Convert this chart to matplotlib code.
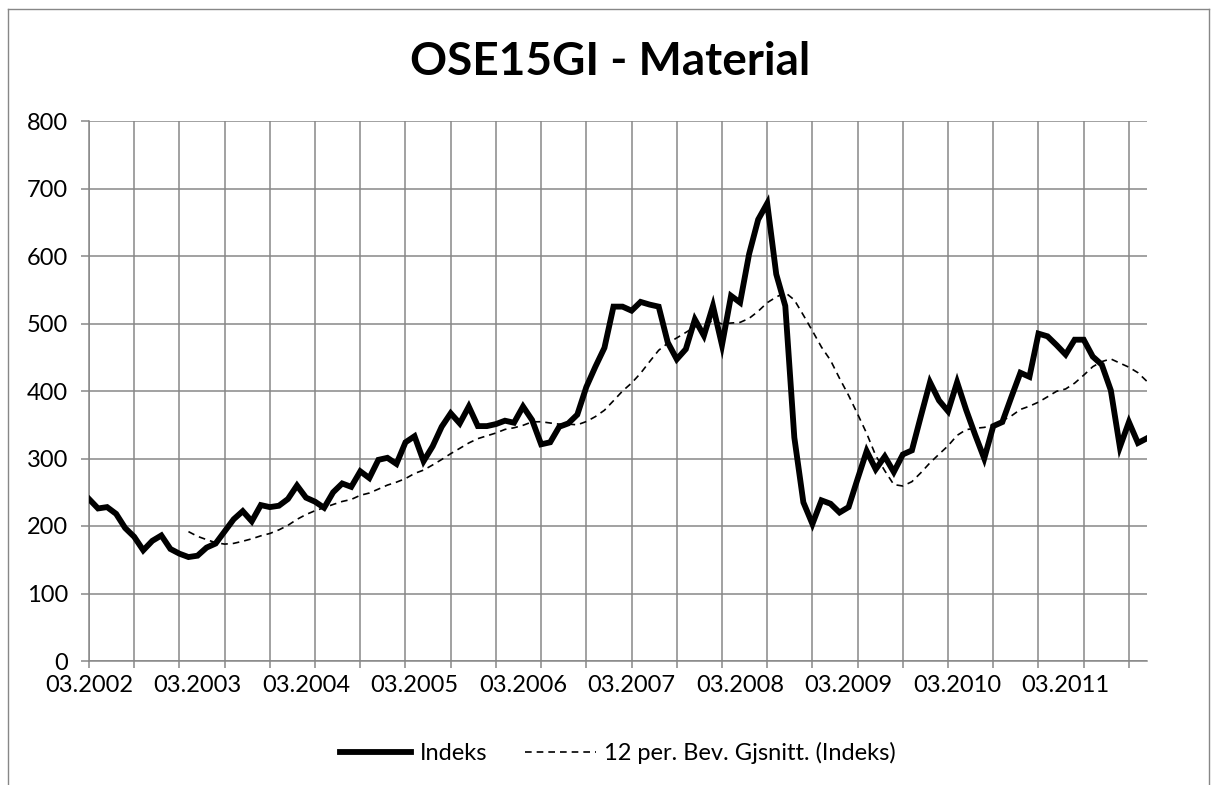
import numpy as np
import pandas as pd
import matplotlib
matplotlib.use("Agg")
import matplotlib.pyplot as plt
from matplotlib.lines import Line2D

# Monthly index values, 03.2002 .. 12.2011
indeks = [
    240, 226, 228, 218, 197, 184, 164, 178, 186, 166,
    159, 154, 156, 168, 174, 192, 210, 222, 207, 231,
    228, 230, 240, 260, 242, 236, 227, 250, 263, 258,
    281, 271, 298, 301, 292, 324, 333, 296, 318, 347,
    367, 352, 377, 348, 348, 351, 356, 353, 377, 357,
    321, 324, 347, 352, 365, 406, 436, 464, 525, 525,
    519, 532, 528, 525, 472, 447, 462, 506, 482, 526,
    468, 541, 531, 603, 654, 678, 573, 526, 331, 235,
    203, 238, 233, 220, 228, 270, 311, 284, 303, 280,
    306, 312, 363, 413, 386, 370, 413, 372, 335, 300,
    348, 354, 391, 427, 421, 485, 481, 468, 454, 476,
    476, 451, 439, 401, 317, 354, 323, 330,
]
x_labels = ["03.2002", "03.2003", "03.2004", "03.2005", "03.2006",
            "03.2007", "03.2008", "03.2009", "03.2010", "03.2011"]
y_ticks = [0, 100, 200, 300, 400, 500, 600, 700, 800]

title = "OSE15GI - Material"
series_name = "Indeks"
trend_name = "12 per. Bev. Gjsnitt. (Indeks)"

plt.rcParams['font.family'] = ['Lato', 'DejaVu Sans']

s = pd.Series(indeks, dtype=float)
ma = s.rolling(12).mean()
x = np.arange(len(s))

W, H = 1217, 785
fig = plt.figure(figsize=(W / 100, H / 100), dpi=100)
ax = fig.add_axes([89 / W, 1 - 661 / H, (1147 - 89) / W, (661 - 121) / H])

grid_c = '#878787'

# outer chart border
fig.add_artist(Line2D([8 / W, 1209 / W], [1 - 9 / H, 1 - 9 / H], color=grid_c, lw=1.0,
                      transform=fig.transFigure))
fig.add_artist(Line2D([8 / W, 8 / W], [1 - 9 / H, 0], color=grid_c, lw=1.0,
                      transform=fig.transFigure))
fig.add_artist(Line2D([1209 / W, 1209 / W], [1 - 9 / H, 0], color=grid_c, lw=1.0,
                      transform=fig.transFigure))

ax.plot(x, s, color='black', lw=4.2, solid_joinstyle='miter', label=series_name, zorder=3)
ax.plot(x, ma, color='black', lw=1.2, dashes=(4, 3), label=trend_name, zorder=3)

ax.set_xlim(0, len(s) - 1)
ax.set_ylim(0, 800)

# gridlines / tick marks every 5 months, labels every 12 months
ax.xaxis.remove_overlapping_locs = False
ax.set_xticks(np.arange(0, len(s), 5))
ax.set_xticklabels([])
ax.set_xticks(np.arange(0, len(s), 12)[:len(x_labels)], x_labels, minor=True)
ax.tick_params(axis='x', which='major', length=5, width=1.1, color=grid_c, direction='out')
ax.tick_params(axis='x', which='minor', length=0, pad=10, labelsize=17)
ax.set_yticks(y_ticks)
ax.tick_params(axis='y', length=6, width=1.1, color=grid_c, pad=9, labelsize=17)

ax.grid(True, which='major', color=grid_c, lw=1.1)
ax.set_axisbelow(True)
for side in ['top', 'right']:
    ax.spines[side].set_visible(False)
for side in ['left', 'bottom']:
    ax.spines[side].set_color(grid_c)
    ax.spines[side].set_linewidth(1.1)

fig.text(610 / W, 1 - 62 / H, title, ha='center', va='center', fontsize=33, fontweight='bold')

fig.legend(loc='center', bbox_to_anchor=(618 / W, 1 - 753 / H), ncol=2, frameon=False,
           fontsize=17, handlelength=3.0, handletextpad=0.35, columnspacing=1.6)

fig.savefig('out.png', dpi=100)
